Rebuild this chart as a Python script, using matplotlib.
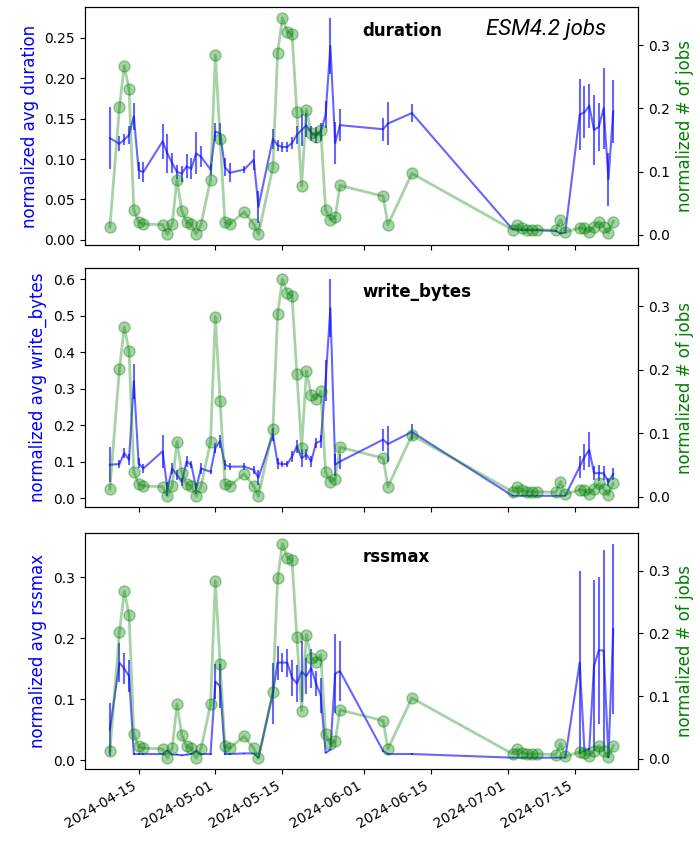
import numpy as np
import pandas as pd
import matplotlib
matplotlib.use("Agg")
import matplotlib.pyplot as plt
import matplotlib.dates as mdates
from matplotlib.ticker import MultipleLocator

# dates of the job records (shared by all panels)
dates = pd.to_datetime([
    "2024-04-09", "2024-04-11", "2024-04-12", "2024-04-13", "2024-04-14",
    "2024-04-15", "2024-04-16", "2024-04-20", "2024-04-21", "2024-04-22",
    "2024-04-23", "2024-04-24", "2024-04-25", "2024-04-26", "2024-04-27",
    "2024-04-28", "2024-04-30", "2024-05-01", "2024-05-02", "2024-05-03",
    "2024-05-04", "2024-05-07", "2024-05-09", "2024-05-10", "2024-05-13",
    "2024-05-14", "2024-05-15", "2024-05-16", "2024-05-17", "2024-05-18",
    "2024-05-19", "2024-05-20", "2024-05-21", "2024-05-22", "2024-05-23",
    "2024-05-24", "2024-05-25", "2024-05-26", "2024-05-27", "2024-06-05",
    "2024-06-06", "2024-06-11", "2024-07-02", "2024-07-03", "2024-07-04",
    "2024-07-05", "2024-07-06", "2024-07-07", "2024-07-11", "2024-07-12",
    "2024-07-13", "2024-07-16", "2024-07-17", "2024-07-18", "2024-07-19",
    "2024-07-20", "2024-07-21", "2024-07-22", "2024-07-23"])

# normalized number of jobs (right axis, same in every panel)
jobs = [0.012, 0.202, 0.267, 0.230, 0.039, 0.020, 0.017, 0.016, 0.001, 0.017,
        0.087, 0.038, 0.020, 0.017, 0.001, 0.016, 0.087, 0.284, 0.151, 0.020,
        0.017, 0.036, 0.017, 0.001, 0.107, 0.288, 0.343, 0.321, 0.317, 0.194,
        0.077, 0.198, 0.161, 0.154, 0.166, 0.039, 0.024, 0.028, 0.078, 0.061,
        0.016, 0.097, 0.008, 0.016, 0.010, 0.008, 0.008, 0.008, 0.007, 0.024,
        0.004, 0.011, 0.010, 0.005, 0.013, 0.021, 0.013, 0.003, 0.021]

duration = [0.126, 0.119, 0.124, 0.130, 0.153, 0.086, 0.084, 0.122, 0.107, 0.095,
            0.084, 0.082, 0.091, 0.088, 0.107, 0.103, 0.087, 0.134, 0.132, 0.090,
            0.083, 0.087, 0.099, 0.041, 0.125, 0.117, 0.115, 0.115, 0.120, 0.130,
            0.136, 0.142, 0.132, 0.130, 0.134, 0.155, 0.240, 0.120, 0.142, 0.137,
            0.144, 0.157, 0.013, 0.013, 0.012, 0.012, 0.012, 0.012, 0.011, 0.008,
            0.009, 0.155, 0.158, 0.166, 0.136, 0.140, 0.163, 0.075, 0.159]
duration_err = [0.038, 0.009, 0.007, 0.011, 0.017, 0.011, 0.012, 0.022, 0.024, 0.012,
                0.009, 0.010, 0.015, 0.013, 0.026, 0.013, 0.007, 0.011, 0.013, 0.011,
                0.012, 0.004, 0.012, 0.020, 0.012, 0.007, 0.006, 0.006, 0.007, 0.011,
                0.020, 0.015, 0.009, 0.010, 0.011, 0.017, 0.035, 0.026, 0.020, 0.014,
                0.027, 0.011, 0.001, 0.001, 0.001, 0.001, 0.001, 0.001, 0.001, 0.001,
                0.001, 0.044, 0.032, 0.027, 0.043, 0.030, 0.050, 0.033, 0.039]

write_bytes = [0.091, 0.093, 0.123, 0.105, 0.320, 0.095, 0.081, 0.128, 0.025, 0.081,
               0.063, 0.044, 0.100, 0.091, 0.026, 0.081, 0.072, 0.137, 0.156, 0.091,
               0.086, 0.086, 0.077, 0.056, 0.174, 0.095, 0.093, 0.093, 0.114, 0.142,
               0.109, 0.119, 0.100, 0.151, 0.156, 0.322, 0.520, 0.091, 0.100, 0.160,
               0.148, 0.181, 0.006, 0.006, 0.006, 0.006, 0.006, 0.006, 0.006, 0.006,
               0.006, 0.086, 0.112, 0.132, 0.068, 0.068, 0.068, 0.044, 0.066]
write_bytes_err = [0.048, 0.012, 0.014, 0.015, 0.048, 0.014, 0.013, 0.046, 0.020, 0.015,
                   0.013, 0.010, 0.015, 0.010, 0.015, 0.015, 0.006, 0.013, 0.018, 0.013,
                   0.010, 0.010, 0.012, 0.020, 0.018, 0.015, 0.008, 0.008, 0.016, 0.018,
                   0.025, 0.014, 0.014, 0.014, 0.018, 0.055, 0.080, 0.030, 0.020, 0.030,
                   0.050, 0.022, 0.001, 0.001, 0.001, 0.001, 0.001, 0.001, 0.001, 0.001,
                   0.001, 0.030, 0.035, 0.048, 0.020, 0.022, 0.020, 0.012, 0.016]

rssmax = [0.050, 0.160, 0.150, 0.138, 0.010, 0.010, 0.010, 0.010, 0.016, 0.009,
          0.009, 0.008, 0.009, 0.010, 0.015, 0.010, 0.010, 0.129, 0.121, 0.010,
          0.010, 0.011, 0.011, 0.004, 0.110, 0.160, 0.160, 0.160, 0.135, 0.126,
          0.145, 0.138, 0.151, 0.126, 0.106, 0.012, 0.017, 0.142, 0.146, 0.015,
          0.010, 0.010, 0.004, 0.004, 0.004, 0.004, 0.004, 0.004, 0.004, 0.004,
          0.004, 0.160, 0.015, 0.018, 0.155, 0.180, 0.180, 0.005, 0.215]
rssmax_err = [0.043, 0.032, 0.025, 0.026, 0.001, 0.001, 0.001, 0.001, 0.001, 0.001,
              0.001, 0.001, 0.001, 0.001, 0.001, 0.001, 0.001, 0.028, 0.036, 0.001,
              0.001, 0.001, 0.001, 0.001, 0.050, 0.028, 0.015, 0.023, 0.029, 0.030,
              0.050, 0.030, 0.032, 0.020, 0.028, 0.001, 0.001, 0.065, 0.049, 0.001,
              0.001, 0.001, 0.001, 0.001, 0.001, 0.001, 0.001, 0.001, 0.001, 0.001,
              0.001, 0.150, 0.002, 0.002, 0.140, 0.120, 0.165, 0.002, 0.140]

metrics = ["duration", "write_bytes", "rssmax"]
values = [duration, write_bytes, rssmax]
errors = [duration_err, write_bytes_err, rssmax_err]
ystep = [0.05, 0.1, 0.1]

fig = plt.figure(figsize=(7, 8.41), dpi=100)
boxes = [[0.121, 0.7087, 0.791, 0.283],
         [0.121, 0.3971, 0.791, 0.284],
         [0.121, 0.0856, 0.791, 0.2806]]

first = None
for i in range(3):
    ax = fig.add_axes(boxes[i], sharex=first)
    if first is None:
        first = ax
    ax.errorbar(dates, values[i], yerr=errors[i], color="blue", alpha=0.6,
                lw=1.5, elinewidth=1.5)
    ax.yaxis.set_major_locator(MultipleLocator(ystep[i]))
    ax.set_ylabel("normalized avg " + metrics[i], color="blue", fontsize=12)
    ax.text(0.502, 0.9, metrics[i], transform=ax.transAxes, ha="left",
            va="center", fontsize=12, fontweight="bold")

    ax2 = ax.twinx()
    ax2.plot(dates, jobs, "o-", color="green", alpha=0.35, markersize=8, lw=2)
    ax2.set_ylabel("normalized # of jobs", color="green", fontsize=12)
    ax2.set_yticks([0.0, 0.1, 0.2, 0.3])

    ax.xaxis.set_major_locator(mdates.DayLocator(bymonthday=[1, 15]))
    ax.xaxis.set_major_formatter(mdates.DateFormatter("%Y-%m-%d"))
    if i < 2:
        plt.setp(ax.get_xticklabels(), visible=False)
    else:
        plt.setp(ax.get_xticklabels(), rotation=30, ha="right")

fig.text(486 / 700, 1 - 30 / 841, "ESM4.2 jobs", ha="left", va="center",
         fontsize=16, style="italic", family="Roboto")

fig.savefig("out.png")
